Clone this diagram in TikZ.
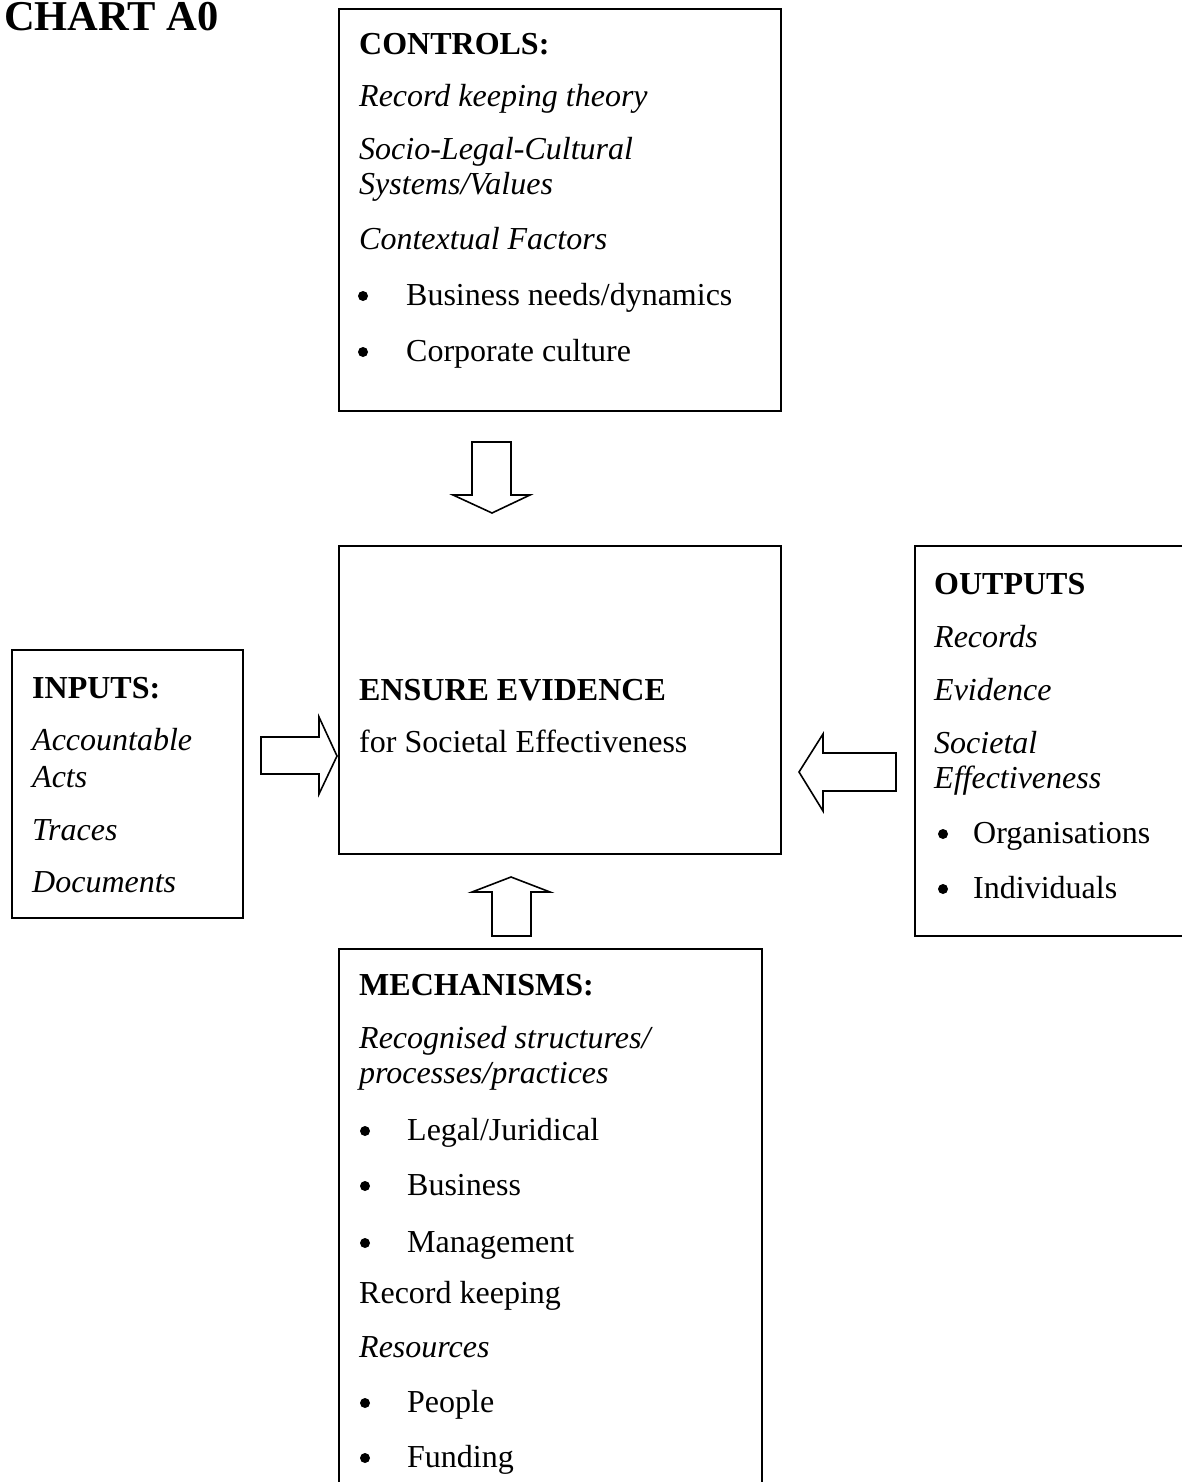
\documentclass[tikz,border=0pt]{standalone}
\usepackage{fontspec}
\setmainfont{Liberation Serif}
\newcommand\bodyfs{\fontsize{32}{36}\selectfont}
\newcommand\titlefs{\fontsize{42.5}{46}\selectfont}
\tikzset{
  box/.style={draw, line width=1.6pt, inner sep=0pt, anchor=north west},
  txt/.style={anchor=base west, inner sep=0pt, font=\bodyfs},
  itx/.style={txt, font=\bodyfs\itshape},
  bfx/.style={txt, font=\bodyfs\bfseries},
  bul/.style={circle, fill=black, inner sep=0pt, minimum size=10pt},
  blockarrow/.style={draw, line width=1.6pt, line join=miter, fill=white}
}
\begin{document}
\begin{tikzpicture}[x=1pt, y=-1pt]
\useasboundingbox (0,0) rectangle (1182,1482);
\begin{scope}
\clip (0,0) rectangle (1182,1482);
% boxes
\node[box, minimum width=442pt, minimum height=402pt] (controls) at (338,8) {};
\node[box, minimum width=442pt, minimum height=308pt] (center) at (338,545) {};
\node[box, minimum width=231pt, minimum height=268pt] (inputs) at (11,649) {};
\node[box, minimum width=290pt, minimum height=390pt] (outputs) at (914,545) {};
\node[box, minimum width=423pt, minimum height=560pt] (mech) at (338,948) {};

% block arrows
\draw[blockarrow] (472,442) -- (511,442) -- (511,495) -- (530,495) -- (492,513) -- (453,495) -- (472,495) -- cycle;
\draw[blockarrow] (492,936) -- (531,936) -- (531,892) -- (550,892) -- (511,877) -- (472,892) -- (492,892) -- cycle;
\draw[blockarrow] (261,737) -- (319,737) -- (319,717) -- (337,756) -- (319,794) -- (319,774) -- (261,774) -- cycle;
\draw[blockarrow] (896,753) -- (823,753) -- (823,734) -- (799,772) -- (823,811) -- (823,791) -- (896,791) -- cycle;
\end{scope}

% title
\node[anchor=base west, inner sep=0pt, font=\titlefs\bfseries] (title) at (4,31) {CHART A0};

% controls
\node[bfx] (c0) at (359,55) {CONTROLS:};
\node[itx] (c1) at (359,107) {Record keeping theory};
\node[itx] (c2) at (359,160) {Socio-Legal-Cultural};
\node[itx] (c3) at (359,195) {Systems/Values};
\node[itx] (c4) at (359,249) {Contextual Factors};
\node[bul] (cb1) at (363,296) {};
\node[txt] (c5) at (406,305) {Business needs/dynamics};
\node[bul] (cb2) at (363,352) {};
\node[txt] (c6) at (406,361) {Corporate culture};

% center
\node[bfx] (e0) at (359,700) {ENSURE EVIDENCE};
\node[txt] (e1) at (359,752) {for Societal Effectiveness};

% inputs
\node[bfx] (i0) at (32,698) {INPUTS:};
\node[itx] (i1) at (32,750) {Accountable};
\node[itx] (i2) at (32,787) {Acts};
\node[itx] (i3) at (32,840) {Traces};
\node[itx] (i4) at (32,892) {Documents};

% outputs
\node[bfx] (o0) at (934,594) {OUTPUTS};
\node[itx] (o1) at (934,647) {Records};
\node[itx] (o2) at (934,700) {Evidence};
\node[itx] (o3) at (934,753) {Societal};
\node[itx] (o4) at (934,788) {Effectiveness};
\node[bul] (ob1) at (943,834) {};
\node[txt] (o5) at (973,843) {Organisations};
\node[bul] (ob2) at (943,889) {};
\node[txt] (o6) at (973,898) {Individuals};

% mechanisms
\node[bfx] (m0) at (359,995) {MECHANISMS:};
\node[itx] (m1) at (359,1048) {Recognised structures/};
\node[itx] (m2) at (359,1083) {processes/practices};
\node[bul] (mb1) at (365,1131) {};
\node[txt] (m3) at (407,1140) {Legal/Juridical};
\node[bul] (mb2) at (365,1186) {};
\node[txt] (m4) at (407,1195) {Business};
\node[bul] (mb3) at (365,1243) {};
\node[txt] (m5) at (407,1252) {Management};
\node[txt] (m6) at (359,1303) {Record keeping};
\node[itx] (m7) at (359,1357) {Resources};
\node[bul] (mb4) at (365,1403) {};
\node[txt] (m8) at (407,1412) {People};
\node[bul] (mb5) at (365,1458) {};
\node[txt] (m9) at (407,1467) {Funding};
\end{tikzpicture}
\end{document}
